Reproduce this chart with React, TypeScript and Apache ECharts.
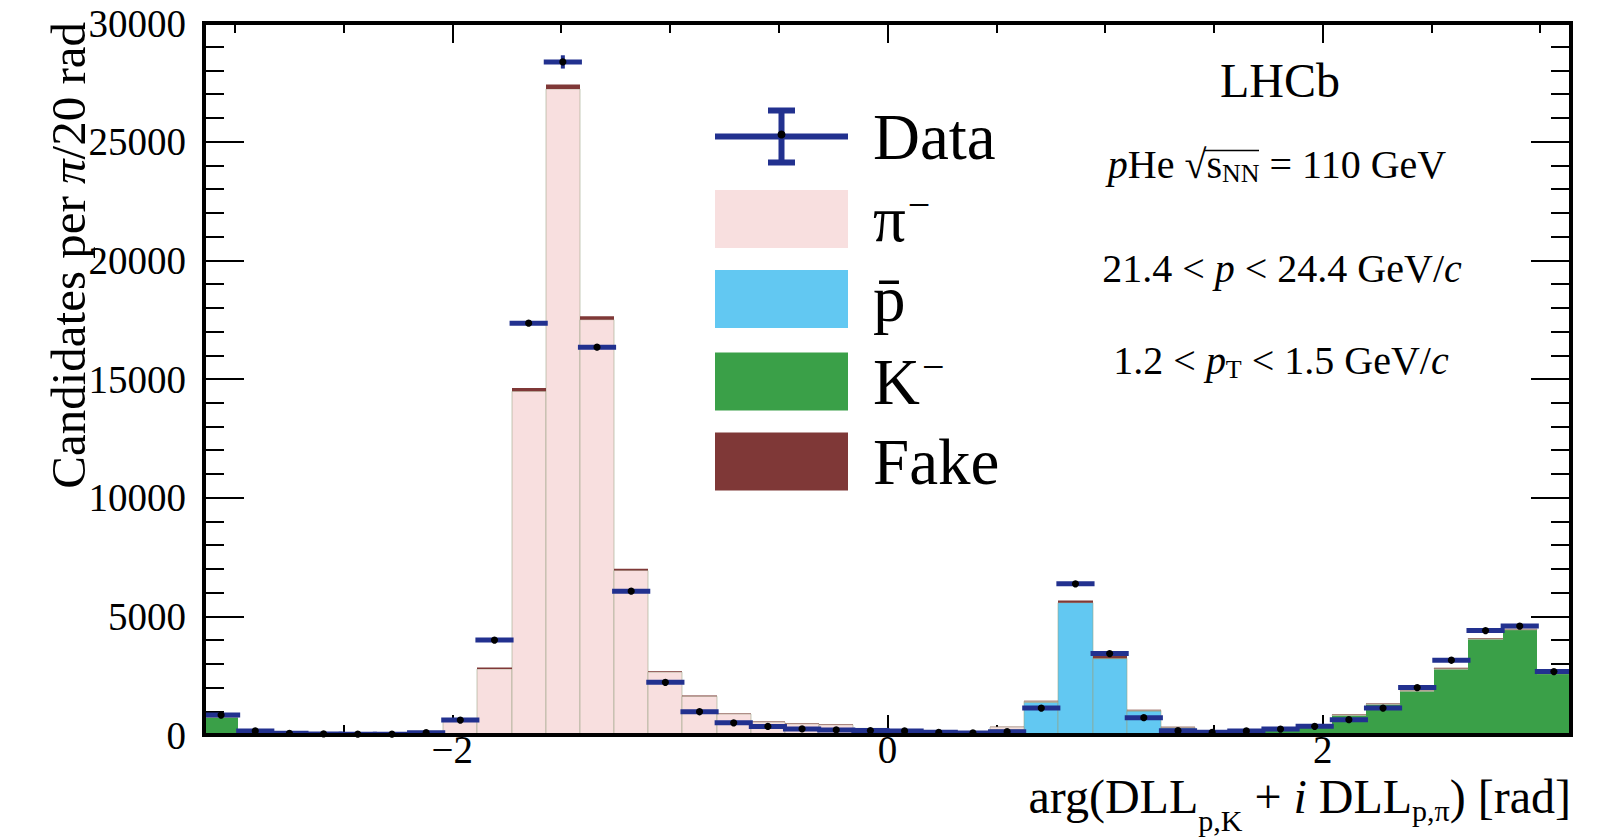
import React, { useEffect, useRef } from 'react';
import * as echarts from 'echarts';

// ---------------- data ----------------
const X_MIN = -Math.PI;
const X_MAX = Math.PI;
const N_BINS = 40;
const BIN_WIDTH = (X_MAX - X_MIN) / N_BINS; // pi/20

const kaon = [740, 110, 30, 15, 10, 5, 0, 0, 0, 0, 0, 0, 0, 0, 0, 0, 0, 0, 0, 0, 5, 5, 10, 15, 20, 20, 20, 20, 30, 50, 120, 200, 330, 820, 1280, 1840, 2775, 4035, 4425, 2570];
const antiproton = [10, 5, 0, 0, 0, 0, 0, 0, 0, 0, 0, 0, 0, 0, 0, 0, 0, 0, 0, 0, 10, 20, 40, 220, 1355, 5555, 3200, 990, 260, 80, 20, 15, 10, 0, 0, 0, 0, 0, 0, 0];
const pion = [20, 60, 50, 40, 45, 60, 120, 690, 2780, 14480, 27220, 17500, 6930, 2650, 1630, 885, 545, 470, 430, 280, 200, 130, 90, 100, 45, 0, 10, 30, 40, 35, 35, 30, 25, 30, 30, 30, 30, 30, 30, 25];
const fake = [20, 15, 10, 5, 5, 5, 10, 30, 60, 140, 190, 140, 70, 40, 30, 25, 20, 20, 20, 20, 15, 15, 10, 15, 20, 95, 130, 25, 20, 15, 15, 15, 15, 20, 20, 20, 25, 25, 25, 25];
const dataCounts = [840, 170, 70, 45, 35, 35, 100, 630, 4000, 17350, 28360, 16340, 6060, 2220, 980, 515, 360, 255, 215, 185, 170, 115, 85, 140, 1135, 6370, 3430, 730, 180, 115, 170, 250, 365, 645, 1135, 2000, 3150, 4400, 4590, 2675];
const dataErrors = [29, 13, 8, 7, 6, 6, 10, 25, 63, 110, 280, 105, 78, 47, 31, 23, 19, 16, 15, 14, 13, 11, 9, 12, 34, 80, 59, 27, 13, 11, 13, 16, 19, 25, 34, 45, 56, 66, 68, 52];

const xMajorTicks = [-2, 0, 2];
const xMinorTicks = [-3, -2.5, -1.5, -1, -0.5, 0.5, 1, 1.5, 2.5, 3];
const yMin = 0;
const yMax = 30000;
const yInterval = 5000;

// ---------------- styles ----------------
const SERIF = '"Liberation Serif", "Times New Roman", serif';
const PINK = '#f8dfdf';
const BLUE = '#62c8f2';
const GREEN = '#3aa048';
const FAKE_C = '#7f3837';
const NAVY = '#22318f';
const OUTLINE = 'rgba(150,160,130,0.55)';

const components = [
  { name: 'K⁻', values: kaon, color: GREEN, stroke: null as string | null },
  { name: 'p\u0304', values: antiproton, color: BLUE, stroke: OUTLINE },
  { name: 'π⁻', values: pion, color: PINK, stroke: OUTLINE },
  { name: 'Fake', values: fake, color: FAKE_C, stroke: null as string | null },
];

const edge = (i: number) => X_MIN + i * BIN_WIDTH;

function buildOption() {
  let base = new Array(N_BINS).fill(0);
  const histSeries = components.map((c) => {
    const data = c.values.map((v, i) => [edge(i), edge(i + 1), base[i], base[i] + v]);
    base = base.map((b, i) => b + c.values[i]);
    return {
      type: 'custom',
      name: c.name,
      data,
      encode: { x: [0, 1], y: [2, 3] },
      itemStyle: { color: c.color },
      z: 2,
      renderItem: (params: any, api: any) => {
        const lo = api.value(2);
        const hi = api.value(3);
        if (hi - lo <= 0) return null;
        const p0 = api.coord([api.value(0), hi]);
        const p1 = api.coord([api.value(1), lo]);
        const x0 = Math.round(p0[0]);
        const x1 = Math.round(p1[0]);
        return {
          type: 'rect',
          shape: { x: x0, y: p0[1], width: x1 - x0, height: p1[1] - p0[1] },
          style: c.stroke
            ? { fill: c.color, stroke: c.stroke, lineWidth: 1 }
            : { fill: c.color },
        };
      },
    };
  });

  const dataSeries = {
    type: 'custom',
    name: 'Data',
    z: 4,
    itemStyle: { color: NAVY },
    data: dataCounts.map((v, i) => [(edge(i) + edge(i + 1)) / 2, edge(i), edge(i + 1), v, dataErrors[i]]),
    encode: { x: 0, y: 3 },
    renderItem: (params: any, api: any) => {
      const xc = api.value(0);
      const y = api.value(3);
      const e = api.value(4);
      const c = api.coord([xc, y]);
      const l = api.coord([api.value(1), y]);
      const r = api.coord([api.value(2), y]);
      const t = api.coord([xc, y + e]);
      const b = api.coord([xc, Math.max(0, y - e)]);
      return {
        type: 'group',
        children: [
          { type: 'line', shape: { x1: l[0] - 2, y1: c[1], x2: r[0] + 2, y2: c[1] }, style: { stroke: NAVY, lineWidth: 5 } },
          { type: 'line', shape: { x1: c[0], y1: t[1], x2: c[0], y2: b[1] }, style: { stroke: NAVY, lineWidth: 4 } },
          { type: 'circle', shape: { cx: c[0], cy: c[1], r: 3.6 }, style: { fill: '#000' } },
        ],
      };
    },
  };

  const xBase = (position: 'bottom' | 'top', ticks: number[], len: number, labels: boolean) => ({
    type: 'value',
    position,
    min: X_MIN,
    max: X_MAX,
    axisLine: { show: false, onZero: false },
    axisTick: { show: true, inside: true, length: len, customValues: ticks, lineStyle: { color: '#000', width: 2 } },
    axisLabel: labels
      ? {
          show: true,
          customValues: xMajorTicks,
          margin: -2,
          lineHeight: 32,
          color: '#000',
          fontFamily: SERIF,
          fontSize: 39,
          formatter: (v: number) => (v < 0 ? '\u2212' + Math.abs(v) : String(v)),
        }
      : { show: false },
    splitLine: { show: false },
  });

  const xAxes: any[] = [
    xBase('bottom', xMajorTicks, 20, true),
    xBase('bottom', xMinorTicks, 10, false),
    xBase('top', xMajorTicks, 20, false),
    xBase('top', xMinorTicks, 10, false),
  ];

  const yBase = (position: 'left' | 'right', labels: boolean) => ({
    type: 'value',
    position,
    min: yMin,
    max: yMax,
    interval: yInterval,
    axisLine: { show: false, onZero: false },
    axisTick: { show: true, inside: true, length: 40, lineStyle: { color: '#000', width: 2 } },
    minorTick: { show: true, splitNumber: 5, length: 20, lineStyle: { color: '#000', width: 2 } },
    axisLabel: labels
      ? {
          show: true,
          margin: 18,
          color: '#000',
          fontFamily: SERIF,
          fontSize: 39,
          formatter: (v: number) => String(v),
        }
      : { show: false },
    splitLine: { show: false },
    minorSplitLine: { show: false },
  });

  const yAxes: any[] = [yBase('left', true), yBase('right', false)];

  const legendLabels: Record<string, string> = {
    Data: '{g| }{n|Data}',
    'π⁻': '{g| }{n|π}{s|\u2212}',
    'p\u0304': '{g| }{n|p\u0304}',
    'K⁻': '{g| }{n|K}{s|\u2212}',
    Fake: '{g| }{n|Fake}',
  };

  const dataIcon =
    'path://M0,26H133V32H0Z M63.5,3H69.5V55H63.5Z M53,0H80V6H53Z M53,52H80V58H53Z';

  const textItem = (x: number, y: number, text: string, size: number) => ({
    type: 'text',
    x,
    y,
    z: 20,
    style: {
      text,
      fontFamily: SERIF,
      fontSize: size,
      fill: '#000',
      align: 'center',
      verticalAlign: 'middle',
      rich: {
        i: { fontFamily: SERIF, fontSize: size, fontStyle: 'italic', fill: '#000' },
        sub: { fontFamily: SERIF, fontSize: Math.round(size * 0.65), fill: '#000', padding: [18, 0, 0, 0] },
        r: { fontFamily: SERIF, fontSize: size, fill: '#000' },
      },
    },
  });

  const legendLeft = 710;
  const legendTop = 99;

  return {
    animation: false,
    backgroundColor: '#fff',
    grid: {
      left: 204,
      right: 37,
      top: 23,
      bottom: 104,
      show: true,
      borderColor: '#000',
      borderWidth: 4,
      backgroundColor: 'transparent',
      z: 10,
      containLabel: false,
      outerBoundsMode: 'none',
    },
    xAxis: xAxes,
    yAxis: yAxes,
    legend: {
      orient: 'vertical',
      left: legendLeft,
      top: legendTop,
      itemWidth: 133,
      itemHeight: 58,
      itemGap: 15,
      selectedMode: false,
      data: [
        { name: 'Data', icon: dataIcon },
        { name: 'π⁻', icon: 'rect' },
        { name: 'p\u0304', icon: 'rect' },
        { name: 'K⁻', icon: 'rect' },
        { name: 'Fake', icon: 'rect' },
      ],
      formatter: (name: string) => legendLabels[name] || name,
      textStyle: {
        color: '#000',
        fontFamily: SERIF,
        fontSize: 65,
        rich: {
          g: { width: 20, fontSize: 10 },
          n: { fontFamily: SERIF, fontSize: 65, color: '#000' },
          s: { fontFamily: SERIF, fontSize: 40, color: '#000', padding: [0, 0, 30, 2] },
        },
      },
    },
    graphic: [
      { type: 'circle', z: 30, shape: { cx: legendLeft + 5 + 66.5, cy: legendTop + 35.5, r: 4 }, style: { fill: '#000' } },
      textItem(1280, 80, 'LHCb', 48),
      textItem(1277, 164, '{i|p}{r|He √}{r|s}{sub|NN}{r| = 110 GeV}', 40),
      { type: 'line', z: 20, shape: { x1: 1204, y1: 150.5, x2: 1259, y2: 150.5 }, style: { stroke: '#000', lineWidth: 1.6 } },
      textItem(1282, 268, '{r|21.4 < }{i|p}{r| < 24.4 GeV/}{i|c}', 40),
      textItem(1281, 360, '{r|1.2 < }{i|p}{sub|T}{r| < 1.5 GeV/}{i|c}', 40),
      {
        type: 'text',
        x: 1571,
        y: 772,
        z: 20,
        style: {
          text: '{m|arg(DLL}{s1|p,K}{m| + }{mi|i}{m| DLL}{s2|p,π}{m|) [rad]}',
          align: 'right',
          verticalAlign: 'top',
          fontFamily: SERIF,
          fontSize: 48,
          fill: '#000',
          rich: {
            m: { fontFamily: SERIF, fontSize: 48, lineHeight: 48, verticalAlign: 'top', fill: '#000' },
            mi: { fontFamily: SERIF, fontSize: 48, lineHeight: 48, verticalAlign: 'top', fontStyle: 'italic', fill: '#000' },
            s1: { fontFamily: SERIF, fontSize: 30, lineHeight: 30, verticalAlign: 'top', fill: '#000', padding: [33, 0, 0, 0] },
            s2: { fontFamily: SERIF, fontSize: 30, lineHeight: 30, verticalAlign: 'top', fill: '#000', padding: [23, 0, 0, 0] },
          },
        },
      },
      {
        type: 'text',
        x: 68,
        y: 22,
        rotation: Math.PI / 2,
        z: 20,
        style: {
          text: '{t|Candidates per }{ti|π}{t|/20 rad}',
          align: 'right',
          verticalAlign: 'middle',
          fontFamily: SERIF,
          fontSize: 49,
          fill: '#000',
          rich: {
            t: { fontFamily: SERIF, fontSize: 49, fill: '#000' },
            ti: { fontFamily: SERIF, fontSize: 49, fontStyle: 'italic', fill: '#000' },
          },
        },
      },
    ],
    series: [...histSeries, dataSeries],
  };
}

export default function App() {
  const ref = useRef<HTMLDivElement>(null);
  useEffect(() => {
    if (!ref.current) return;
    const chart = echarts.init(ref.current, null, { renderer: 'svg' });
    chart.setOption(buildOption() as any);
    return () => chart.dispose();
  }, []);
  return (
    <div
      ref={ref}
      style={{ position: 'absolute', left: 0, top: 0, width: 1608, height: 839, background: '#fff' }}
    />
  );
}
